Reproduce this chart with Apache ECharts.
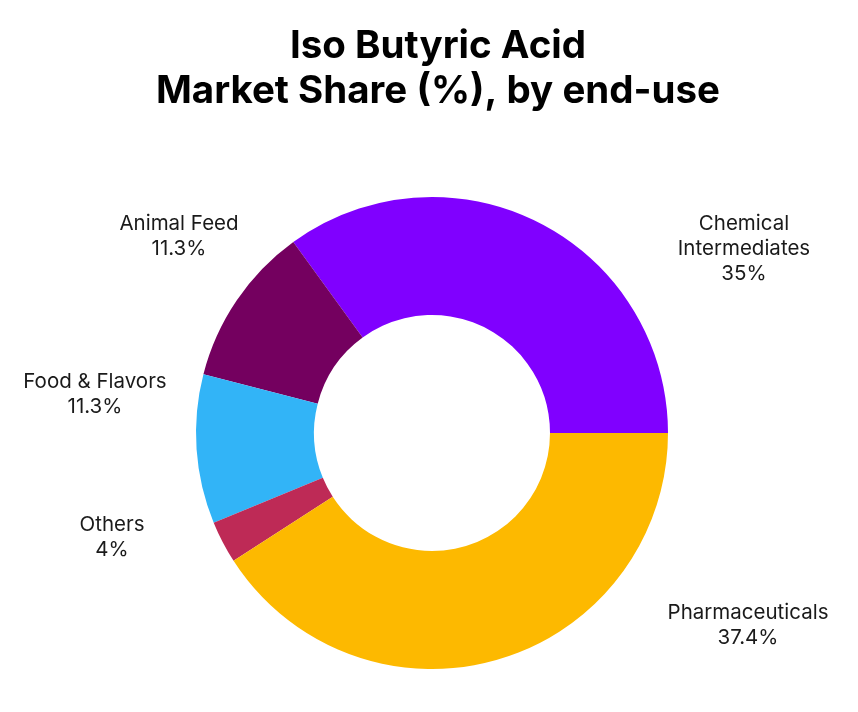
<!DOCTYPE html>
<html>
<head>
<meta charset="utf-8">
<script src="https://cdn.jsdelivr.net/npm/echarts@6/dist/echarts.min.js"></script>
<style>
  html, body { margin: 0; padding: 0; background: #ffffff; }
  #chart { width: 858px; height: 712px; }
</style>
</head>
<body>
<div id="chart"></div>
<script>
// ---- Data ----
var categories = ['Chemical\nIntermediates', 'Animal Feed', 'Food & Flavors', 'Others', 'Pharmaceuticals'];
var sliceValues = [35.0, 11.0, 10.2, 2.9, 40.9];
// percentages printed in the labels
var labelPercents = ['35%', '11.3%', '11.3%', '4%', '37.4%'];
var colors = ['#8000FF', '#74005F', '#32B4F7', '#BE2A56', '#FDB900'];

// ---- Layout (label anchors, px) ----
var labelAnchors = [[744, 249], [179, 236], [95, 394], [112, 537], [748, 625]];

var chart = echarts.init(document.getElementById('chart'), null, { renderer: 'canvas' });

var seriesData = categories.map(function (c, i) {
  return { name: c, value: sliceValues[i], itemStyle: { color: colors[i] } };
});

chart.setOption({
  backgroundColor: '#ffffff',
  animation: false,
  title: {
    text: 'Iso Butyric Acid\nMarket Share (%), by end-use',
    left: 433,
    textAlign: 'center',
    top: 19,
    textStyle: {
      fontFamily: 'Inter',
      fontWeight: 'bold',
      fontSize: 38.5,
      lineHeight: 45,
      color: '#000000'
    }
  },
  series: [{
    type: 'pie',
    center: [432, 433],
    radius: [118, 236],
    startAngle: 0,
    clockwise: false,
    avoidLabelOverlap: false,
    data: seriesData,
    label: {
      show: true,
      position: 'outside',
      fontFamily: 'Inter',
      fontSize: 20.5,
      lineHeight: 25,
      color: '#1a1a1a',
      align: 'center',
      formatter: function (p) { return p.name + '\n' + labelPercents[p.dataIndex]; }
    },
    labelLine: { show: false },
    labelLayout: function (p) {
      var a = labelAnchors[p.dataIndex];
      return { x: a[0], y: a[1], align: 'center', verticalAlign: 'middle' };
    },
    emphasis: { disabled: true }
  }]
});
</script>
</body>
</html>
